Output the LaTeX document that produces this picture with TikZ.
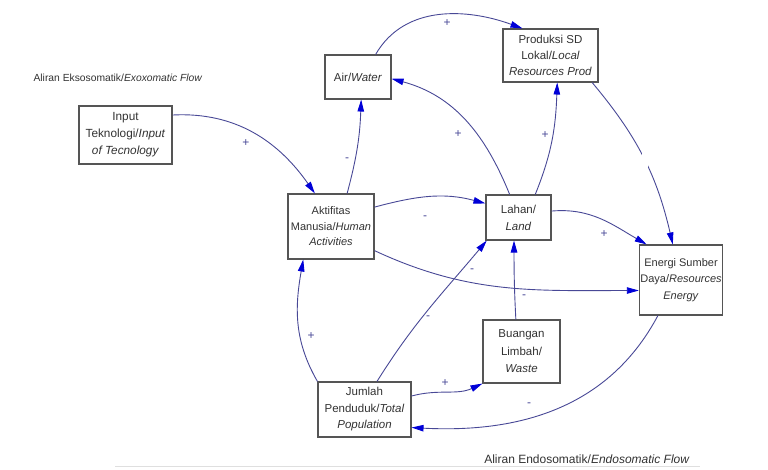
\documentclass[tikz,border=0pt]{standalone}
\usepackage{fontspec}
\setmainfont{Liberation Sans}
\usetikzlibrary{arrows.meta}
\definecolor{linec}{RGB}{72,72,150}
\definecolor{tipc}{RGB}{0,0,215}
\definecolor{txtc}{RGB}{50,50,50}
\definecolor{boxc}{RGB}{85,85,85}
\begin{document}
\begin{tikzpicture}[x=1pt,y=1pt,
  box/.style={draw=boxc,line width=1.1pt,text=txtc,align=center,inner sep=1pt,
    font=\fontsize{11.5}{16.5}\selectfont},
  link/.style={draw=linec,line width=0.9pt,
    -{Triangle[length=12pt,width=6.5pt,color=tipc,fill=tipc]}},
  sign/.style={text=linec,font=\fontsize{12}{12}\selectfont,inner sep=0pt},
  captxt/.style={text=txtc,inner sep=0pt}]
\useasboundingbox (0,0) rectangle (768,470);
\draw[gray!25,line width=1pt] (115,3) -- (700,3);

\node[captxt,font=\fontsize{10.3}{12}\selectfont] (t1) at (118,392) {Aliran Eksosomatik/\textit{Exoxomatic Flow}};
\node[captxt,font=\fontsize{12}{14}\selectfont] (t2) at (587,11) {Aliran Endosomatik/\textit{Endosomatic Flow}};

\node[box,minimum width=93pt,minimum height=58pt,font=\fontsize{11.8}{17}\selectfont] (inp) at (125.5,335) {Input\\Teknologi/\textit{Input}\\\textit{of Tecnology}};
\node[box,minimum width=66pt,minimum height=44pt] (air) at (358,393) {Air/\textit{Water}};
\node[box,minimum width=95pt,minimum height=53pt,font=\fontsize{11.5}{16}\selectfont] (prod) at (550.5,414.5) {Produksi SD\\Lokal/\textit{Local}\\\textit{Resources Prod}};
\node[box,minimum width=86pt,minimum height=65pt,font=\fontsize{11}{15.5}\selectfont] (akt) at (331,243.5) {Aktifitas\\Manusia/\textit{Human}\\\textit{Activities}};
\node[box,minimum width=65pt,minimum height=45pt,font=\fontsize{11.5}{17}\selectfont] (lah) at (518.5,252.5) {Lahan/\\\textit{Land}};
\node[box,minimum width=82pt,minimum height=70pt,font=\fontsize{11}{16.5}\selectfont] (ene) at (681,190) {Energi Sumber\\Daya/\textit{Resources}\\\textit{Energy}};
\node[box,minimum width=77pt,minimum height=63pt,font=\fontsize{11.5}{17.5}\selectfont] (bua) at (521.5,118.5) {Buangan\\Limbah/\\\textit{Waste}};
\node[box,minimum width=93pt,minimum height=55pt] (jum) at (364.5,60.5) {Jumlah\\Penduduk/\textit{Total}\\\textit{Population}};

% connectors
\draw[link] (inp.23) to[out=3,in=125] (akt.116);
\draw[link] (akt.64) to[out=75,in=-92] (air.-82);
\draw[link] (air.52) to[out=60,in=160] (prod.136);
\draw[link] (lah.111) to[out=112,in=-15] (air.-3.5);
\draw[link] (lah.54) to[out=68,in=-92] (prod.-76);
\draw[link] (prod.-33) to[out=-50,in=103] node[pos=0.52,fill=white,inner sep=0pt,minimum width=6pt,minimum height=16pt]{} (ene.103);
\draw[link] (akt.24) to[out=15,in=165] (lah.157);
\draw[link] (lah.11) to[out=5,in=150] (ene.134);
\draw[link] (akt.-29) to[out=-25,in=180] (ene.194);
\draw[link] (jum.66) to[out=58,in=-130] (lah.216);
\draw[link] (bua.100) to[out=93,in=-90] (lah.-101);
\draw[link] (jum.16) to[out=15,in=205] (bua.south west);
\draw[link] (ene.237) to[out=-118,in=-3] (jum.-21);
\draw[link] (jum.north west) to[out=120,in=-100] (akt.230);

% signs
\node[sign] (s1) at (246,327) {+};
\node[sign] (s2) at (347,310) {-};
\node[sign] (s3) at (447,447) {+};
\node[sign] (s4) at (458,336) {+};
\node[sign] (s5) at (545,335) {+};
\node[sign] (s7) at (425,252) {-};
\node[sign] (s8) at (604,236) {+};
\node[sign] (s9) at (472,199) {-};
\node[sign] (s10) at (428,152) {-};
\node[sign] (s11) at (524,173) {-};
\node[sign] (s12) at (445,87) {+};
\node[sign] (s13) at (529,65) {-};
\node[sign] (s14) at (311,134) {+};
\end{tikzpicture}
\end{document}
